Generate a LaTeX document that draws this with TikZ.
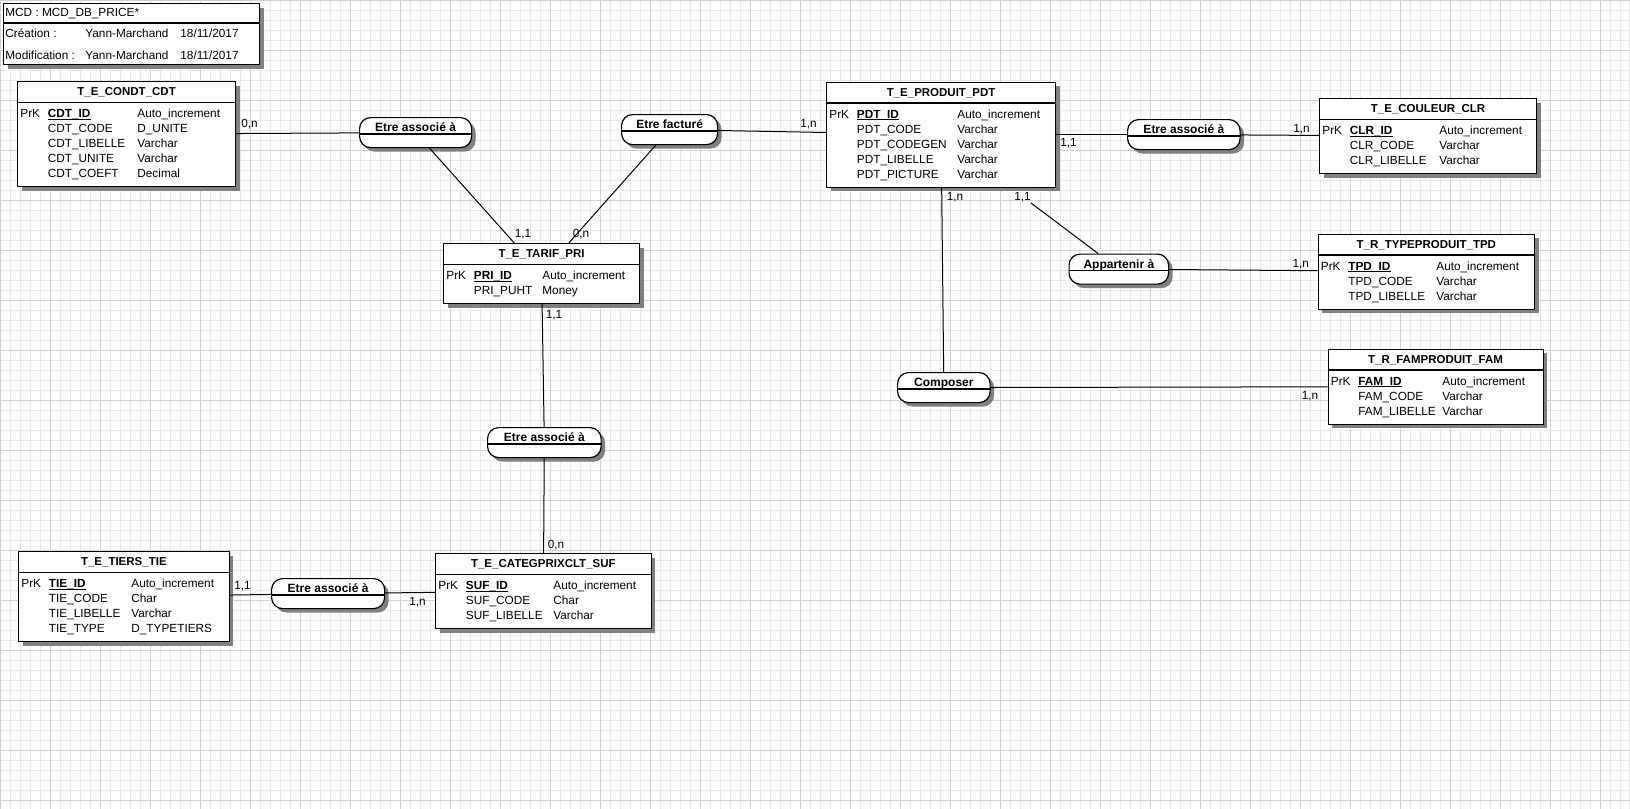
\documentclass[tikz,border=0pt]{standalone}
\usepackage{fontspec}
\setmainfont{Liberation Sans}
\usetikzlibrary{calc,shadows}
\definecolor{grillefine}{RGB}{233,233,233}
\definecolor{grillemaj}{RGB}{210,210,210}
\definecolor{ombre}{RGB}{128,128,128}

\tikzset{
  txt/.style={font=\fontsize{5.9}{7.5}\selectfont,inner sep=0pt},
  champ/.style={txt,anchor=base west},
  titre/.style={txt,font=\fontsize{5.75}{7.5}\selectfont\bfseries,anchor=base},
  card/.style={txt},
  ombree/.style={drop shadow={shadow xshift=2pt,shadow yshift=-2pt,fill=ombre,opacity=1}},
  ent/.style={draw,line width=0.6pt,fill=white,inner sep=0pt,anchor=north west,ombree},
  rel/.style={draw,line width=0.6pt,fill=white,rounded corners=5.5pt,inner sep=0pt,
    anchor=north west,minimum height=15pt,text height=4pt,text depth=4.7pt,
    font=\fontsize{6}{7.5}\selectfont\bfseries,ombree},
  lien/.style={line width=0.5pt}
}

% entite : nom, x, y, largeur, nb lignes, titre, colonne type, lignes
\newcommand{\entite}[8]{%
  \node[ent,minimum width=#4*0.5pt,minimum height={(30+15*#5)*0.5pt}] (#1) at (#2,#3) {};
  \draw[line width=0.6pt] ($(#1.north west)+(0,21.5)$) -- ($(#1.north east)+(0,21.5)$);
  \node[titre] (#1-titre) at ($(#1.north)+(0,14.8)$) {#6};
  \node[champ] (#1-prk) at ($(#1.north west)+(3,36.8)$) {PrK};
  \foreach \col/\typ [count=\k] in {#8} {
    \node[champ] (#1-c\k) at ($(#1.north west)+(30.5,{21.8+15*\k})$) {\col};
    \node[champ] (#1-t\k) at ($(#1.north west)+(#7,{21.8+15*\k})$) {\typ};
  }
  % cle primaire soulignee
  \draw[line width=0.55pt] ($(#1-c1.base west)+(0,1.6)$) -- ($(#1-c1.base east)+(0,1.6)$);
}

% association : nom, x, y, largeur, texte
\newcommand{\assoc}[5]{%
  \node[rel,minimum width=#4*0.5pt] (#1) at (#2,#3) {#5};
  \draw[line width=0.6pt] ($(#1.north west)+(0,17)$) -- ($(#1.north east)+(0,17)$);
}

\begin{document}
\begin{tikzpicture}[x=0.5pt,y=-0.5pt]
  \useasboundingbox (0,0) rectangle (1630,809);
  \fill[white] (0,0) rectangle (1630,809);
  \draw[grillefine,line width=0.5pt] (0,809) grid[step=5pt] (1630,0);
  \draw[grillemaj,line width=0.5pt] (0,809) grid[step=25pt] (1630,0);

  % cartouche
  \node[ent,minimum width=128pt,minimum height=30.5pt] (mcd) at (3,3) {};
  \draw[line width=0.6pt] ($(mcd.north west)+(0,20)$) -- ($(mcd.north east)+(0,20)$);
  \node[champ] (mcd-nom) at ($(mcd.north west)+(2,13.3)$) {MCD : MCD\_DB\_PRICE*};
  \node[champ] (mcd-cr) at ($(mcd.north west)+(2,34.3)$) {Création :};
  \node[champ] (mcd-crn) at ($(mcd.north west)+(82,34.3)$) {Yann-Marchand};
  \node[champ] (mcd-crd) at ($(mcd.north west)+(177,34.3)$) {18/11/2017};
  \node[champ] (mcd-mo) at ($(mcd.north west)+(2,56.3)$) {Modification :};
  \node[champ] (mcd-mon) at ($(mcd.north west)+(82,56.3)$) {Yann-Marchand};
  \node[champ] (mcd-mod) at ($(mcd.north west)+(177,56.3)$) {18/11/2017};

  % entites
  \entite{cdt}{17}{81}{218}{5}{T\_E\_CONDT\_CDT}{120}{\textbf{CDT\_ID}/Auto\_increment,
    CDT\_CODE/D\_UNITE,CDT\_LIBELLE/Varchar,CDT\_UNITE/Varchar,CDT\_COEFT/Decimal}
  \entite{pri}{443}{243}{196}{2}{T\_E\_TARIF\_PRI}{99}{\textbf{PRI\_ID}/Auto\_increment,
    PRI\_PUHT/Money}
  \entite{pdt}{826}{81.5}{229}{5}{T\_E\_PRODUIT\_PDT}{131}{\textbf{PDT\_ID}/Auto\_increment,
    PDT\_CODE/Varchar,PDT\_CODEGEN/Varchar,PDT\_LIBELLE/Varchar,PDT\_PICTURE/Varchar}
  \entite{clr}{1319}{98}{217}{3}{T\_E\_COULEUR\_CLR}{120}{\textbf{CLR\_ID}/Auto\_increment,
    CLR\_CODE/Varchar,CLR\_LIBELLE/Varchar}
  \entite{tpd}{1317.5}{233.5}{216.5}{3}{T\_R\_TYPEPRODUIT\_TPD}{118.5}{\textbf{TPD\_ID}/Auto\_increment,
    TPD\_CODE/Varchar,TPD\_LIBELLE/Varchar}
  \entite{fam}{1327.5}{348.5}{215}{3}{T\_R\_FAMPRODUIT\_FAM}{114.5}{\textbf{FAM\_ID}/Auto\_increment,
    FAM\_CODE/Varchar,FAM\_LIBELLE/Varchar}
  \entite{tie}{18}{551}{210.5}{4}{T\_E\_TIERS\_TIE}{113}{\textbf{TIE\_ID}/Auto\_increment,
    TIE\_CODE/Char,TIE\_LIBELLE/Varchar,TIE\_TYPE/D\_TYPETIERS}
  \entite{suf}{435}{553}{215.5}{3}{T\_E\_CATEGPRIXCLT\_SUF}{118}{\textbf{SUF\_ID}/Auto\_increment,
    SUF\_CODE/Char,SUF\_LIBELLE/Varchar}

  % associations
  \assoc{ra1}{359}{117}{112}{Etre associé à}
  \assoc{rf}{621}{114}{96}{Etre facturé}
  \assoc{ra2}{1127}{119}{112.5}{Etre associé à}
  \assoc{rapp}{1068.5}{253.5}{99.5}{Appartenir à}
  \assoc{rcomp}{897}{372}{92.5}{Composer}
  \assoc{ra3}{487}{427}{113.5}{Etre associé à}
  \assoc{ra4}{271}{578}{113}{Etre associé à}

  % liens
  \coordinate (p11) at (1031,203);
  \draw[lien] (cdt) -- (ra1);
  \draw[lien] (ra1) -- (pri);
  \draw[lien] (rf) -- (pri);
  \draw[lien] (rf) -- (pdt);
  \draw[lien] (pdt) -- (ra2);
  \draw[lien] (ra2) -- (clr);
  \draw[lien] (pdt) -- (rcomp);
  \draw[lien] (p11) -- (rapp);
  \draw[lien] (rapp) -- (tpd);
  \draw[lien] (rcomp) -- (fam);
  \draw[lien] (pri) -- (ra3);
  \draw[lien] (ra3) -- (suf);
  \draw[lien] (tie) -- (ra4);
  \draw[lien] (ra4) -- (suf);

  % cardinalites
  \node[card] (k1) at (249.5,124.5) {0,n};
  \node[card] (k2) at (523,234) {1,1};
  \node[card] (k3) at (581,234) {0,n};
  \node[card] (k4) at (808.5,124) {1,n};
  \node[card] (k5) at (1068.5,143) {1,1};
  \node[card] (k6) at (1301.5,129) {1,n};
  \node[card] (k7) at (955,196.7) {1,n};
  \node[card] (k8) at (1022.5,196.7) {1,1};
  \node[card] (k9) at (1300.8,263.8) {1,n};
  \node[card] (k10) at (1310,396) {1,n};
  \node[card] (k11) at (554,315) {1,1};
  \node[card] (k12) at (556,545.5) {0,n};
  \node[card] (k13) at (242.6,586) {1,1};
  \node[card] (k14) at (417.5,602.5) {1,n};
\end{tikzpicture}
\end{document}
